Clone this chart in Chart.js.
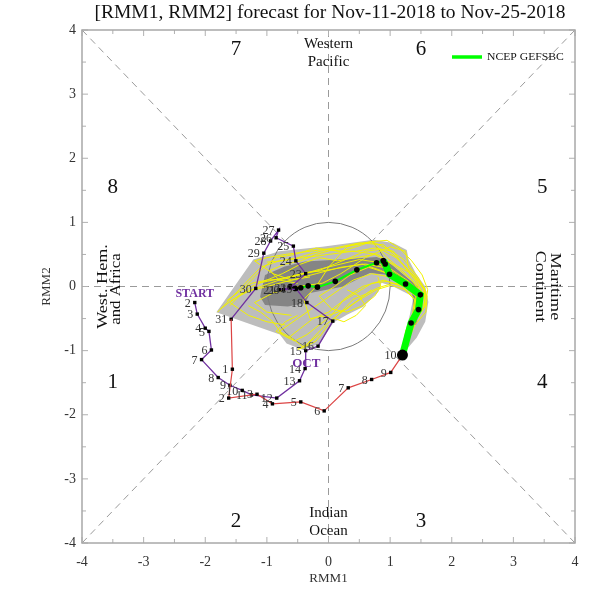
<!DOCTYPE html>
<html><head><meta charset="utf-8">
<script src="https://cdn.jsdelivr.net/npm/chart.js@4/dist/chart.umd.min.js"></script>
<style>html,body{margin:0;padding:0;background:#fff}canvas{display:block}</style>
</head><body>
<canvas id="c" width="600" height="600"></canvas>
<script>
const titleText = '[RMM1, RMM2] forecast for Nov-11-2018 to Nov-25-2018';
const xTicks = [-4,-3,-2,-1,0,1,2,3,4];
const yTicks = [4,3,2,1,0,-1,-2,-3,-4];
const phaseNames = ['1','2','3','4','5','6','7','8'];
const legendLabel = 'NCEP GEFSBC';

// Observed October (purple)
const octDays = [2,3,4,5,6,7,8,9,10,11,12,13,14,15,16,17,18,19,20,21,22,23,24,25,26,27,28,29,30,31];
const octRmm1 = [-2.17,-2.13,-2.00,-1.94,-1.90,-2.06,-1.79,-1.60,-1.40,-1.25,-0.84,-0.47,-0.38,-0.37,-0.17,0.07,-0.35,-0.52,-0.73,-0.80,-0.62,-0.37,-0.53,-0.57,-0.85,-0.81,-0.94,-1.05,-1.18,-1.58];
const octRmm2 = [-0.25,-0.43,-0.65,-0.70,-0.99,-1.14,-1.42,-1.54,-1.62,-1.69,-1.74,-1.47,-1.28,-1.00,-0.93,-0.54,-0.25,-0.04,-0.05,-0.05,-0.02,0.20,0.40,0.63,0.76,0.88,0.71,0.52,-0.03,-0.51];

// Observed November (red)
const novDays = [1,2,3,4,5,6,7,8,9,10];
const novRmm1 = [-1.56,-1.62,-1.16,-0.91,-0.45,-0.07,0.32,0.70,1.01,1.20];
const novRmm2 = [-1.29,-1.74,-1.68,-1.83,-1.80,-1.94,-1.58,-1.45,-1.34,-1.07];

// Ensemble-mean forecast Nov 11 - Nov 25 (green)
const fcRmm1 = [1.34,1.46,1.49,1.25,0.99,0.92,0.89,0.78,0.46,0.11,-0.18,-0.33,-0.45,-0.54,-0.62];
const fcRmm2 = [-0.57,-0.36,-0.13,0.04,0.19,0.35,0.40,0.37,0.26,0.08,-0.01,0.01,-0.02,-0.03,0.00];

// Ensemble spread regions
const light90Rmm1 = [-1.82,-1.22,-0.80,-0.10,0.35,0.73,1.05,1.27,1.30,1.42,1.57,1.62,1.57,1.43,1.25,1.22,1.32,1.38,1.05,0.86,0.81,0.56,0.30,0.08,-0.14,-0.41,-0.68,-0.79];
const light90Rmm2 = [-0.40,0.42,0.55,0.62,0.68,0.73,0.68,0.57,0.42,0.20,0.00,-0.24,-0.55,-0.80,-1.00,-0.82,-0.44,-0.16,0.00,0.06,-0.08,-0.32,-0.44,-0.56,-0.89,-0.99,-0.89,-0.75];
const dark50Rmm1 = [-1.11,-1.03,-0.71,-0.38,0.20,0.78,0.95,1.20,1.45,1.50,1.42,1.33,1.38,1.35,1.00,0.67,0.24,-0.30,-0.38,-0.66,-1.03];
const dark50Rmm2 = [-0.16,0.18,0.31,0.39,0.42,0.46,0.40,0.20,0.00,-0.30,-0.60,-0.60,-0.30,-0.05,0.18,0.21,0.00,-0.10,-0.26,-0.31,-0.29];

// Ensemble members (yellow)
const memberRmm1 = [
 [1.30,1.45,1.50,1.35,1.10,0.80,0.40,0.00,-0.40,-0.80,-1.10,-1.30,-1.50,-1.70,-1.80],
 [1.38,1.52,1.55,1.40,1.15,0.90,0.50,0.10,-0.30,-0.70,-1.00,-1.20,-0.90,-0.60,-0.30],
 [1.28,1.40,1.42,1.25,1.00,0.70,0.40,0.10,-0.20,-0.50,-0.80,-0.60,-0.40,-0.20,0.00],
 [1.35,1.50,1.52,1.30,1.00,0.60,0.20,-0.20,-0.60,-1.00,-1.40,-1.60,-1.30,-1.00,-0.70],
 [1.32,1.48,1.45,1.20,0.95,0.70,0.30,0.00,-0.20,-0.40,-0.30,0.00,0.30,0.50,0.70],
 [1.40,1.58,1.60,1.50,1.30,1.25,1.00,0.60,0.20,-0.10,-0.50,-0.90,-1.20,-1.00,-0.60],
 [1.25,1.36,1.40,1.20,0.90,0.55,0.25,0.05,-0.15,-0.35,-0.55,-0.75,-0.90,-1.10,-1.30],
 [1.36,1.55,1.56,1.35,1.05,0.75,0.45,0.15,-0.15,-0.45,-0.75,-1.00,-1.25,-1.45,-1.60],
 [1.30,1.44,1.47,1.28,0.98,0.65,0.35,0.10,-0.15,0.05,0.30,0.55,0.75,0.85,0.80],
 [1.33,1.46,1.50,1.38,1.20,1.05,0.75,0.45,0.15,-0.20,-0.55,-0.85,-1.05,-1.20,-1.35],
 [1.27,1.42,1.46,1.32,1.12,0.85,0.55,0.25,-0.05,-0.35,-0.65,-0.95,-1.25,-1.55,-1.75],
 [1.37,1.54,1.58,1.45,1.22,0.98,0.70,0.40,0.10,-0.20,-0.45,-0.70,-0.95,-0.80,-0.50],
 [1.29,1.41,1.44,1.22,0.95,0.70,0.45,0.20,0.00,-0.25,-0.45,-0.65,-0.85,-0.70,-0.50],
 [1.34,1.49,1.53,1.42,1.28,1.10,0.85,0.60,0.35,0.10,-0.15,-0.40,-0.65,-0.90,-1.15],
 [1.26,1.38,1.41,1.24,1.02,0.78,0.55,0.35,0.15,-0.05,-0.25,-0.40,-0.50,-0.35,-0.15],
 [1.39,1.57,1.61,1.52,1.35,1.15,0.95,0.70,0.45,0.20,0.00,-0.25,-0.50,-0.75,-1.00],
 [1.31,1.43,1.46,1.27,1.05,0.80,0.60,0.40,0.25,0.10,0.25,0.45,0.60,0.50,0.30],
 [1.33,1.47,1.49,1.30,1.05,0.78,0.50,0.20,-0.10,-0.40,-0.70,-1.00,-1.25,-1.45,-1.65]
];
const memberRmm2 = [
 [-0.60,-0.35,-0.10,0.10,0.30,0.50,0.55,0.50,0.45,0.40,0.30,0.10,-0.10,-0.30,-0.40],
 [-0.55,-0.30,-0.05,0.15,0.40,0.65,0.68,0.60,0.55,0.50,0.45,0.40,0.20,0.10,0.15],
 [-0.62,-0.40,-0.15,0.05,0.15,0.20,0.10,-0.10,-0.30,-0.50,-0.70,-0.80,-0.95,-0.85,-0.60],
 [-0.58,-0.38,-0.12,0.08,0.28,0.35,0.30,0.20,0.10,0.00,-0.10,-0.25,-0.45,-0.55,-0.60],
 [-0.50,-0.25,0.00,0.25,0.45,0.70,0.62,0.30,0.00,-0.20,-0.50,-0.45,-0.35,-0.20,-0.05],
 [-0.60,-0.40,-0.15,0.05,0.30,0.55,0.62,0.45,0.20,0.05,0.00,-0.10,-0.25,-0.40,-0.45],
 [-0.70,-0.45,-0.20,0.00,0.10,0.00,-0.20,-0.45,-0.60,-0.75,-0.85,-0.75,-0.55,-0.40,-0.30],
 [-0.62,-0.32,-0.02,0.20,0.35,0.50,0.45,0.40,0.45,0.35,0.20,0.10,0.00,-0.15,-0.30],
 [-0.65,-0.42,-0.18,0.02,0.20,0.30,0.18,0.00,-0.15,-0.35,-0.40,-0.30,-0.15,0.00,0.15],
 [-0.55,-0.30,-0.05,0.12,0.35,0.55,0.60,0.55,0.55,0.60,0.50,0.45,0.30,0.15,0.00],
 [-0.66,-0.44,-0.20,-0.02,0.12,0.25,0.35,0.30,0.25,0.22,0.15,0.05,-0.05,-0.20,-0.35],
 [-0.57,-0.34,-0.08,0.15,0.42,0.58,0.70,0.65,0.58,0.50,0.40,0.35,0.25,0.10,0.05],
 [-0.64,-0.43,-0.17,0.00,0.08,0.05,-0.10,-0.25,-0.40,-0.50,-0.65,-0.80,-0.70,-0.55,-0.45],
 [-0.59,-0.37,-0.10,0.10,0.28,0.45,0.58,0.55,0.45,0.35,0.25,0.20,0.15,0.10,0.05],
 [-0.68,-0.47,-0.22,-0.05,0.02,-0.05,-0.18,-0.30,-0.45,-0.60,-0.80,-0.95,-0.98,-0.90,-0.75],
 [-0.56,-0.30,-0.05,0.18,0.40,0.60,0.72,0.70,0.62,0.55,0.58,0.52,0.45,0.40,0.38],
 [-0.63,-0.41,-0.16,0.03,0.05,-0.02,-0.12,-0.20,-0.35,-0.50,-0.55,-0.45,-0.30,-0.15,-0.05],
 [-0.60,-0.39,-0.14,0.05,0.22,0.38,0.42,0.35,0.28,0.20,0.12,0.10,0.05,-0.08,-0.22]
];

const SERIF = "'Liberation Serif','Times New Roman',serif";
const PURPLE = '#7030a0', RED = '#dc4444', GREEN = '#00ff00', YELLOW = '#f2f200';

const pts = (xs, ys) => xs.map((v, i) => ({x: v, y: ys[i]}));
const lastOct = {x: octRmm1[octRmm1.length-1], y: octRmm2[octRmm2.length-1]};
const lastNov = {x: novRmm1[novRmm1.length-1], y: novRmm2[novRmm2.length-1]};
const fcPts = pts(fcRmm1, fcRmm2);
const THICK_N = 7;

const datasets = [];
memberRmm1.forEach((xs, k) => {
  datasets.push({label: 'member' + k, data: [lastNov].concat(pts(xs, memberRmm2[k])), showLine: true,
    borderColor: YELLOW, borderWidth: 1, pointRadius: 0, order: 20});
});
datasets.push({label: 'fcThick', data: [lastNov].concat(fcPts.slice(0, THICK_N)), showLine: true,
  borderColor: GREEN, borderWidth: 7, pointRadius: c => c.dataIndex === 0 ? 0 : 2.8,
  pointBackgroundColor: '#000', pointBorderWidth: 0, order: 10});
datasets.push({label: 'fcThin', data: fcPts.slice(THICK_N - 1), showLine: true,
  borderColor: GREEN, borderWidth: 2, pointRadius: 2.8,
  pointBackgroundColor: '#000', pointBorderWidth: 0, order: 9});
datasets.push({label: 'oct', data: pts(octRmm1, octRmm2), showLine: true,
  borderColor: PURPLE, borderWidth: 1.3, pointStyle: 'rect', pointRadius: 2.4,
  pointBackgroundColor: '#000', pointBorderWidth: 0, order: 5});
const novData = [lastOct].concat(pts(novRmm1, novRmm2));
datasets.push({label: 'nov', data: novData, showLine: true,
  borderColor: RED, borderWidth: 1.2,
  pointStyle: c => c.dataIndex === novData.length - 1 ? 'circle' : 'rect',
  pointRadius: c => c.dataIndex === 0 ? 0 : (c.dataIndex === novData.length - 1 ? 5.5 : 2.4),
  pointBackgroundColor: '#000', pointBorderWidth: 0, order: 4});

function stretchedText(ctx, text, cx, cy, angle, sx) {
  ctx.save(); ctx.translate(cx, cy); ctx.rotate(angle); ctx.scale(sx, 1);
  ctx.fillText(text, 0, 0); ctx.restore();
}

const mjoPlugin = {
  id: 'mjo',
  beforeDatasetsDraw(chart) {
    const {ctx, scales: {x, y}} = chart;
    const X = v => x.getPixelForValue(v), Y = v => y.getPixelForValue(v);
    ctx.save();
    // dashed phase dividers
    ctx.strokeStyle = '#9a9a9a'; ctx.lineWidth = 1; ctx.setLineDash([7, 5]);
    const d = Math.SQRT1_2;
    const segs = [[-4,0,-1,0],[4,0,1,0],[0,4,0,1],[0,-4,0,-1],[-4,-4,-d,-d],[4,4,d,d],[-4,4,-d,d],[4,-4,d,-d]];
    segs.forEach(s => { ctx.beginPath(); ctx.moveTo(X(s[0]), Y(s[1])); ctx.lineTo(X(s[2]), Y(s[3])); ctx.stroke(); });
    ctx.setLineDash([]);
    // spread polygons
    const poly = (xs, ys, col) => {
      ctx.beginPath();
      xs.forEach((v, i) => i ? ctx.lineTo(X(v), Y(ys[i])) : ctx.moveTo(X(v), Y(ys[i])));
      ctx.closePath(); ctx.fillStyle = col; ctx.fill();
    };
    poly(light90Rmm1, light90Rmm2, '#bdbdbd');
    poly(dark50Rmm1, dark50Rmm2, '#858585');
    // unit circle
    ctx.strokeStyle = '#7a7a7a'; ctx.lineWidth = 1;
    ctx.beginPath(); ctx.ellipse(X(0), Y(0), X(1) - X(0), Y(0) - Y(1), 0, 0, 2 * Math.PI); ctx.stroke();
    // phase numbers
    ctx.fillStyle = '#111'; ctx.font = '21px ' + SERIF; ctx.textAlign = 'center'; ctx.textBaseline = 'middle';
    const ph = [[-3.5,-1.5],[-1.5,-3.67],[1.5,-3.67],[3.47,-1.5],[3.47,1.55],[1.5,3.7],[-1.5,3.7],[-3.5,1.55]];
    phaseNames.forEach((t, i) => ctx.fillText(t, X(ph[i][0]), Y(ph[i][1])));
    // region labels
    ctx.font = '15px ' + SERIF;
    ctx.fillText('Western', X(0), Y(3.78));
    ctx.fillText('Pacific', X(0), Y(3.5));
    ctx.fillText('Indian', X(0), Y(-3.53));
    ctx.fillText('Ocean', X(0), Y(-3.81));
    stretchedText(ctx, 'Maritime', 555, Y(0), Math.PI / 2, 1.21);
    stretchedText(ctx, 'Continent', 540, Y(0), Math.PI / 2, 1.21);
    stretchedText(ctx, 'West. Hem.', 103, Y(0), -Math.PI / 2, 1.21);
    ctx.font = '14px ' + SERIF;
    stretchedText(ctx, 'and Africa', 116, Y(-0.04), -Math.PI / 2, 1.2);
    ctx.restore();
  },
  afterDatasetsDraw(chart) {
    const {ctx, scales: {x, y}} = chart;
    const X = v => x.getPixelForValue(v), Y = v => y.getPixelForValue(v);
    const metaOf = lbl => chart.getDatasetMeta(chart.data.datasets.findIndex(ds => ds.label === lbl));
    ctx.save();
    ctx.fillStyle = '#333'; ctx.font = '12px ' + SERIF; ctx.textAlign = 'right'; ctx.textBaseline = 'middle';
    metaOf('oct').data.forEach((p, i) => ctx.fillText(String(octDays[i]), p.x - 4, p.y + 1));
    metaOf('nov').data.forEach((p, i) => { if (i > 0) ctx.fillText(String(novDays[i - 1]), p.x - (i === novData.length - 1 ? 6 : 4), p.y + 1); });
    ctx.fillStyle = PURPLE; ctx.font = 'bold 12px ' + SERIF; ctx.textAlign = 'center';
    ctx.fillText('START', X(-2.17), Y(-0.11));
    ctx.font = 'bold 13px ' + SERIF;
    ctx.fillText('OCT', X(-0.36), Y(-1.21));
    // legend
    ctx.strokeStyle = GREEN; ctx.lineWidth = 3.5;
    ctx.beginPath(); ctx.moveTo(452, 57); ctx.lineTo(482, 57); ctx.stroke();
    ctx.fillStyle = '#111'; ctx.font = '11px ' + SERIF; ctx.textAlign = 'left';
    stretchedText(ctx, legendLabel, 487, 57.5, 0, 1.06);
    ctx.restore();
  },
  afterDraw(chart) {
    const {ctx, chartArea: a, scales: {x, y}} = chart;
    const X = v => x.getPixelForValue(v), Y = v => y.getPixelForValue(v);
    ctx.save();
    ctx.strokeStyle = '#b0b0b0'; ctx.lineWidth = 1;
    for (let k = 0; k <= 16; k++) {
      const v = -4 + k * 0.5, L = (k % 2 === 0) ? 6 : 4;
      ctx.beginPath();
      ctx.moveTo(X(v), a.bottom); ctx.lineTo(X(v), a.bottom - L);
      ctx.moveTo(X(v), a.top); ctx.lineTo(X(v), a.top + L);
      ctx.moveTo(a.left, Y(v)); ctx.lineTo(a.left + L, Y(v));
      ctx.moveTo(a.right, Y(v)); ctx.lineTo(a.right - L, Y(v));
      ctx.stroke();
    }
    ctx.strokeStyle = '#a8a8a8'; ctx.lineWidth = 1.5;
    ctx.strokeRect(a.left, a.top, a.right - a.left, a.bottom - a.top);
    ctx.fillStyle = '#333'; ctx.font = '14px ' + SERIF;
    ctx.textAlign = 'center'; ctx.textBaseline = 'middle';
    xTicks.forEach(v => ctx.fillText(String(v), X(v), 562));
    ctx.textAlign = 'right';
    yTicks.forEach(v => ctx.fillText(String(v), 76, Y(v)));
    ctx.textAlign = 'center'; ctx.font = '13px ' + SERIF;
    ctx.fillText('RMM1', X(0), 579);
    ctx.save(); ctx.translate(47, Y(0)); ctx.rotate(-Math.PI / 2); ctx.fillText('RMM2', 0, 0); ctx.restore();
    ctx.fillStyle = '#111'; ctx.font = '19.5px ' + SERIF;
    ctx.fillText(titleText, 330, 13);
    ctx.restore();
  }
};

new Chart(document.getElementById('c'), {
  type: 'scatter',
  data: {datasets},
  options: {
    responsive: false, animation: false, devicePixelRatio: 1,
    layout: {padding: {left: 82, right: 25, top: 30, bottom: 57}},
    plugins: {legend: {display: false}, tooltip: {enabled: false}, title: {display: false}},
    scales: {
      x: {type: 'linear', min: -4, max: 4, display: false},
      y: {type: 'linear', min: -4, max: 4, display: false}
    },
    elements: {line: {tension: 0}}
  },
  plugins: [mjoPlugin]
});
</script>
</body></html>
